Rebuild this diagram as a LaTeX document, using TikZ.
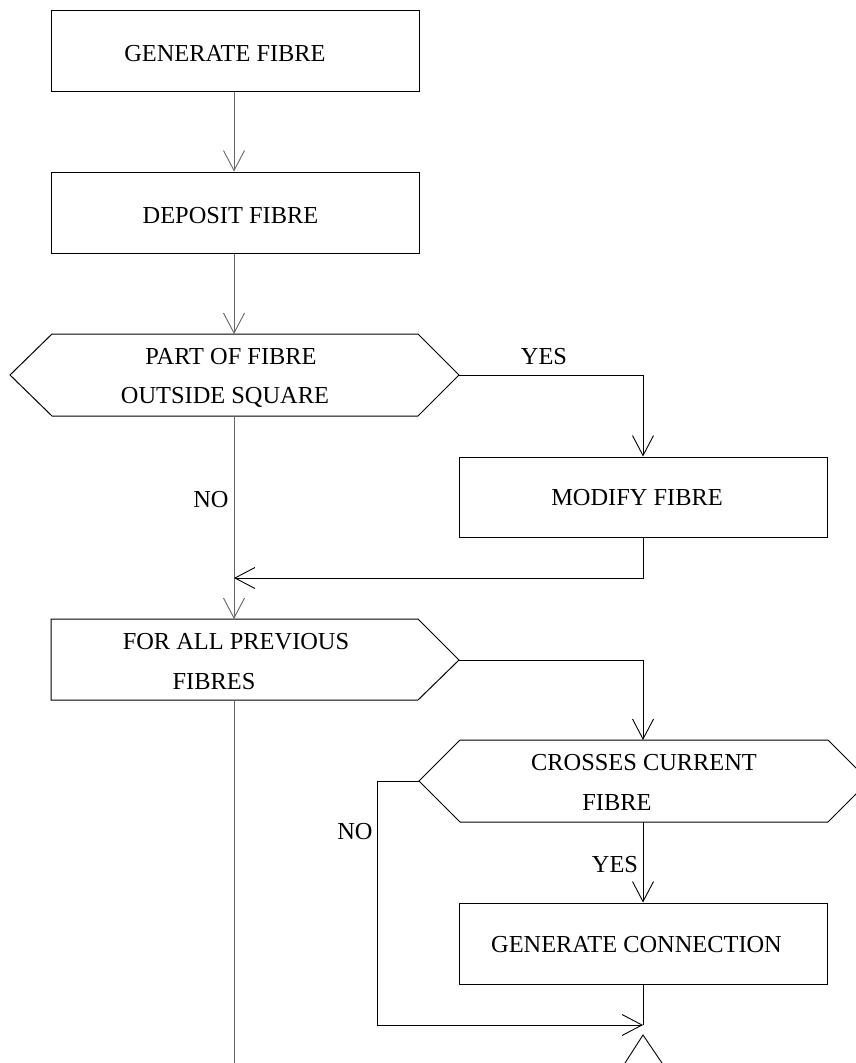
\documentclass[tikz,border=0pt]{standalone}
\usepackage{fontspec}
\setmainfont{Liberation Serif}
\usetikzlibrary{arrows.meta}
\tikzset{
  x=1pt, y=-1pt,
  boxline/.style={draw=black, line width=1pt},
  procbox/.style={boxline, rectangle, inner sep=0pt, minimum width=368pt, minimum height=81pt},
  txt/.style={inner sep=0pt, font=\fontsize{24.4}{26}\selectfont},
  conn/.style={draw=black, line width=0.9pt},
  spine/.style={draw=black!60, line width=1pt},
  arr/.style={-{Straight Barb[length=20pt,width=21pt,line width=0.9pt]}},
}
\begin{document}
\begin{tikzpicture}
\useasboundingbox (0,0) rectangle (855,1063);
% process boxes
\node[procbox] (gen) at (235,50.5) {};
\node[txt] at (225,54) {GENERATE FIBRE};
\node[procbox] (dep) at (235,212.5) {};
\node[txt] at (230.5,216) {DEPOSIT FIBRE};
\node[procbox, minimum height=80pt] (mod) at (643,497) {};
\node[txt] at (637,498) {MODIFY FIBRE};
\node[procbox] (gc) at (643,943.5) {};
\node[txt] at (636.5,945) {GENERATE CONNECTION};
% decision 1
\coordinate (h1l) at (10,375);
\coordinate (h1r) at (459,375);
\coordinate (h1t) at (234,334);
\coordinate (h1b) at (234,416);
\draw[boxline] (h1l) -- (52,334) -- (418,334) -- (h1r) -- (418,416) -- (52,416) -- cycle;
\node[txt] (h1a) at (231,357) {PART OF FIBRE};
\node[txt] (h1c) at (225,397) {OUTSIDE SQUARE};
% loop box
\coordinate (flt) at (234,619);
\coordinate (flr) at (459,660);
\coordinate (flb) at (234,700);
\draw[boxline] (51,619) -- (418,619) -- (flr) -- (418,700) -- (51,700) -- cycle;
\node[txt] (fla) at (236,642) {FOR ALL PREVIOUS};
\node[txt] (flc) at (214,682) {FIBRES};
% decision 2
\coordinate (h2l) at (419,781);
\coordinate (h2t) at (643,740);
\coordinate (h2b) at (643,822);
\draw[boxline] (h2l) -- (460,740) -- (828,740) -- (869,781) -- (828,822) -- (460,822) -- cycle;
\node[txt] (h2a) at (644,763) {CROSSES CURRENT};
\node[txt] (h2c) at (617,803) {FIBRE};
% helper coordinates
\coordinate (ret) at (234,578);
\coordinate (noc) at (377,781);
\coordinate (nob) at (377,1025);
\coordinate (mrg) at (643,1025);
\coordinate (bot) at (234,1063);
\coordinate (tip) at (643,1035);
\coordinate (tipl) at (625,1063);
\coordinate (tipr) at (662,1063);
% connectors
\draw[spine, arr] (gen.south -| 234,0) -- (dep.north -| 234,0);
\draw[spine, arr] (dep.south -| 234,0) -- (h1t);
\draw[spine, arr] (h1b) -- (flt);
\draw[conn, arr] (h1r) -| (mod.north);
\draw[conn, arr] (mod.south) |- (ret);
\draw[spine] (flb) -- (bot);
\draw[conn, arr] (flr) -| (h2t);
\draw[conn, arr] (h2b) -- (gc.north);
\draw[conn] (gc.south) -- (mrg);
\draw[conn, arr] (h2l) -- (noc) -- (nob) -- (mrg);
\draw[conn] (tipl) -- (tip) -- (tipr);
% labels
\node[txt] (yes1) at (544,357) {YES};
\node[txt] (no1) at (211,500) {NO};
\node[txt] (no2) at (355,832) {NO};
\node[txt] (yes2) at (615,865) {YES};
\end{tikzpicture}
\end{document}
